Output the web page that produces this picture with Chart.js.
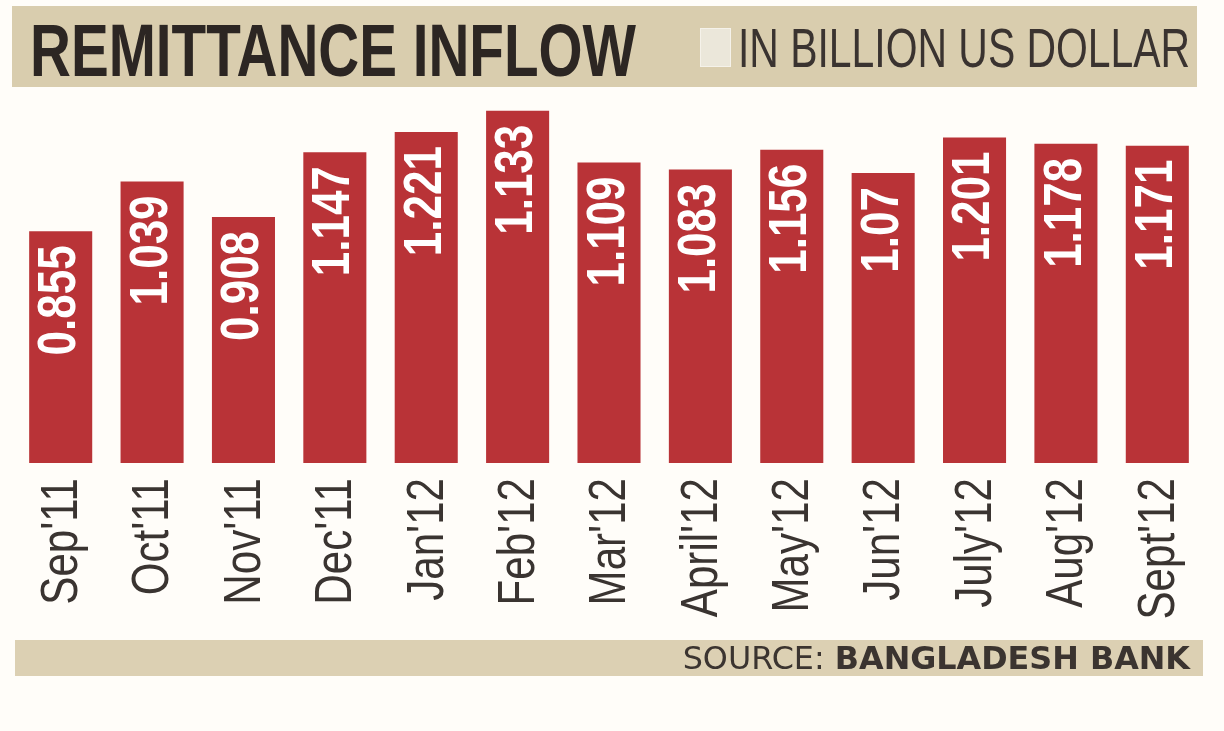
<!DOCTYPE html>
<html>
<head>
<meta charset="utf-8">
<script src="https://cdn.jsdelivr.net/npm/chart.js@4"></script>
<style>
  html, body { margin: 0; padding: 0; background: #fffdf9; }
  #wrap { position: relative; width: 1224px; height: 731px; overflow: hidden; }
  #myChart { position: absolute; left: 0; top: 0; }
  .band { position: absolute; background: #d9cdae; }
  .txt { position: absolute; white-space: nowrap; color: #2c2623; transform-origin: left top; }
</style>
</head>
<body>
<div id="wrap">
  <canvas id="myChart" width="1224" height="731"></canvas>
  <div class="band" style="left:12px;top:6px;width:1185px;height:81px;"></div>
  <div class="txt" style="left:30px;top:12.5px;font:bold 75px 'Liberation Sans',Arial,sans-serif;line-height:75px;transform:scaleX(0.755);">REMITTANCE INFLOW</div>
  <div style="position:absolute;left:700px;top:28px;width:29px;height:37px;background:#ebe7da;border:1px solid #f5f2ea;"></div>
  <div class="txt" style="left:738px;top:19.6px;font:56px 'Liberation Sans',Arial,sans-serif;line-height:56px;color:#3a3330;transform:scaleX(0.73);">IN BILLION US DOLLAR</div>
  <div class="band" style="left:15px;top:640px;width:1188px;height:36px;background:#dcd0b3;"></div>
  <div style="position:absolute;right:34px;top:638px;font:31.8px 'DejaVu Sans',sans-serif;line-height:40px;color:#3b3430;white-space:nowrap;">SOURCE: <b>BANGLADESH BANK</b></div>
</div>
<script>
// month labels along the bottom
const months = ["Sep'11", "Oct'11", "Nov'11", "Dec'11", "Jan'12", "Feb'12", "Mar'12",
                "April'12", "May'12", "Jun'12", "July'12", "Aug'12", "Sept'12"];
// printed figures, billion US$
const inflowText = ['0.855', '1.039', '0.908', '1.147', '1.221', '1.133', '1.109',
                    '1.083', '1.156', '1.07', '1.201', '1.178', '1.171'];
// bar lengths as drawn in the graphic (Feb'12 is drawn taller than its figure)
const barLength = [0.855, 1.039, 0.908, 1.147, 1.221, 1.30, 1.109,
                   1.083, 1.156, 1.07, 1.201, 1.178, 1.171];

// no narrow font installed, so squeeze Liberation Sans along the text direction
const drawSqueezed = (ctx, text, x, y, squeeze) => {
    ctx.save();
    ctx.translate(x, y);
    ctx.rotate(-Math.PI / 2);
    ctx.scale(squeeze, 1);
    ctx.fillText(text, 0, 0);
    ctx.restore();
};

const valueLabels = {
    id: 'valueLabels',
    afterDatasetsDraw(chart) {
        const ctx = chart.ctx;
        const meta = chart.getDatasetMeta(0);
        ctx.save();
        ctx.fillStyle = '#ffffff';
        ctx.font = "bold 53px 'Liberation Sans', Arial, sans-serif";
        ctx.textAlign = 'right';
        ctx.textBaseline = 'middle';
        meta.data.forEach((bar, i) => {
            drawSqueezed(ctx, inflowText[i], bar.x, bar.y + 14, 0.83);
        });
        ctx.restore();
    }
};

const monthLabels = {
    id: 'monthLabels',
    afterDraw(chart) {
        const ctx = chart.ctx;
        const xs = chart.scales.x;
        ctx.save();
        ctx.fillStyle = '#3a3431';
        ctx.font = "52px 'Liberation Sans', Arial, sans-serif";
        ctx.textAlign = 'right';
        ctx.textBaseline = 'middle';
        months.forEach((m, i) => {
            drawSqueezed(ctx, m, xs.getPixelForTick(i) + 2, xs.top + 15, 0.81);
        });
        ctx.restore();
    }
};

const data = {
    labels: months,
    datasets: [
        {
            label: 'In billion US dollar',
            data: barLength,
            backgroundColor: '#b93337',
            borderWidth: 0,
            barPercentage: 0.69,
            categoryPercentage: 1
        }
    ]
};

const config = {
    type: 'bar',
    data: data,
    options: {
        responsive: false,
        animation: false,
        layout: {
            padding: { top: 83.6, left: 15, right: 21, bottom: 0 }
        },
        plugins: {
            legend: { display: false },
            tooltip: { enabled: false },
            title: { display: false }
        },
        scales: {
            x: {
                grid: { display: false, drawTicks: false },
                border: { display: false },
                ticks: { display: false },
                afterFit: (scale) => { scale.height = 268; }
            },
            y: {
                display: false,
                min: 0,
                max: 1.4
            }
        }
    },
    plugins: [valueLabels, monthLabels]
};

const ctx = document.getElementById('myChart').getContext('2d');
new Chart(ctx, config);
</script>
</body>
</html>
